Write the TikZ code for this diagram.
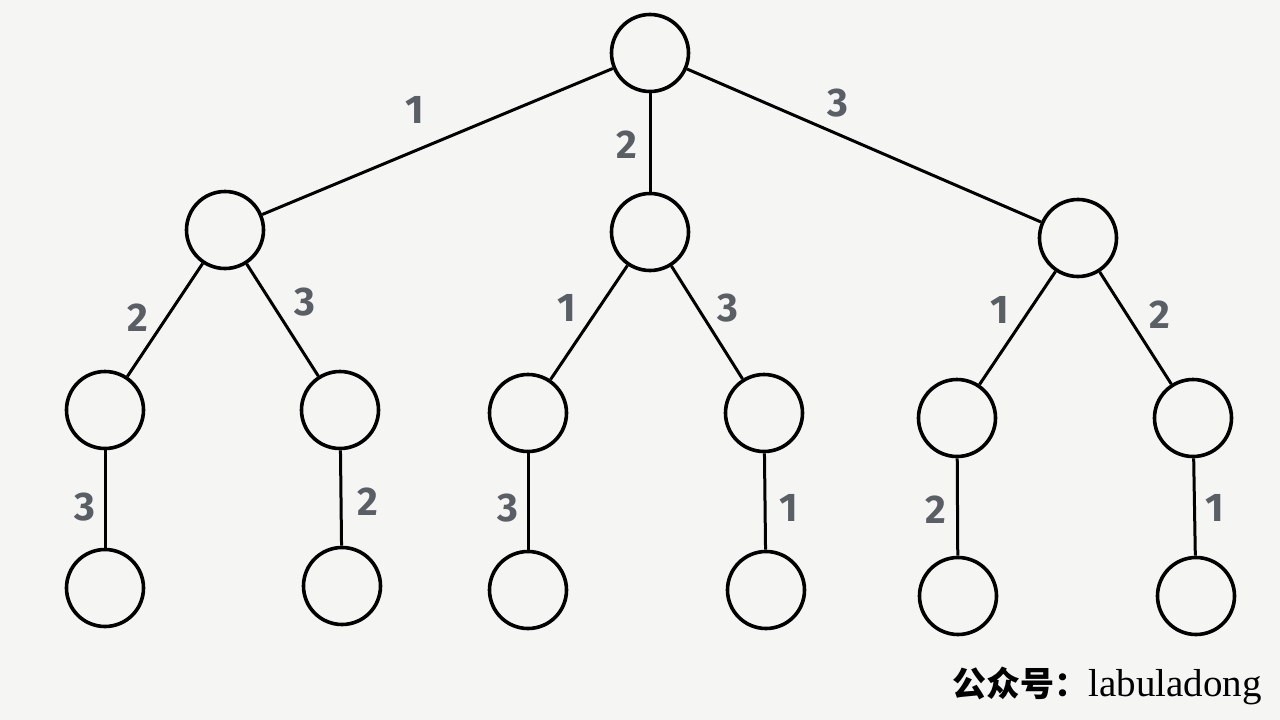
\documentclass[tikz,border=0pt]{standalone}
\usepackage{fontspec}
\setmainfont{Liberation Serif}
\newfontfamily\digitfont{Fira Sans}
\newfontfamily\cjk{Noto Sans CJK SC}
\definecolor{bgc}{HTML}{F5F5F3}
\definecolor{lblc}{HTML}{5A5F66}
\begin{document}
\begin{tikzpicture}[x=1pt,y=-1pt,
  tn/.style={circle,draw=black,line width=3.6pt,minimum size=77pt,inner sep=0pt},
  ed/.style={line width=3pt,black},
  lb/.style={text=lblc,font=\digitfont\bfseries\fontsize{40}{40}\selectfont,inner sep=0pt}]
\fill[bgc] (0,0) rectangle (1280,720);
\useasboundingbox (0,0) rectangle (1280,720);
% nodes
\node[tn] (r) at (650,53) {};
\node[tn] (a) at (225,230) {};
\node[tn] (b) at (650,232) {};
\node[tn] (c) at (1078,238) {};
\node[tn] (aa) at (105,410) {};
\node[tn] (ab) at (340,410) {};
\node[tn] (ba) at (528,413) {};
\node[tn] (bb) at (764,413) {};
\node[tn] (ca) at (957,418) {};
\node[tn] (cb) at (1193,418) {};
\node[tn] (aaa) at (105,588) {};
\node[tn] (aba) at (342,586) {};
\node[tn] (baa) at (528,590) {};
\node[tn] (bba) at (766,590) {};
\node[tn] (caa) at (958,596) {};
\node[tn] (cba) at (1196,596) {};
% edges
\draw[ed] (r) -- (a);
\draw[ed] (r) -- (b);
\draw[ed] (r) -- (c);
\draw[ed] (a) -- (aa);
\draw[ed] (a) -- (ab);
\draw[ed] (b) -- (ba);
\draw[ed] (b) -- (bb);
\draw[ed] (c) -- (ca);
\draw[ed] (c) -- (cb);
\draw[ed] (aa) -- (aaa);
\draw[ed] (ab) -- (aba);
\draw[ed] (ba) -- (baa);
\draw[ed] (bb) -- (bba);
\draw[ed] (ca) -- (caa);
\draw[ed] (cb) -- (cba);
% labels
\node[lb] (l1) at (415,110) {1};
\node[lb] (l2) at (627,145) {2};
\node[lb] (l3) at (838,103) {3};
\node[lb] (l4) at (138,318) {2};
\node[lb] (l5) at (305,302) {3};
\node[lb] (l6) at (567,308) {1};
\node[lb] (l7) at (728,308) {3};
\node[lb] (l8) at (1000,310) {1};
\node[lb] (l9) at (1160,315) {2};
\node[lb] (l10) at (85,507) {3};
\node[lb] (l11) at (368,502) {2};
\node[lb] (l12) at (508,508) {3};
\node[lb] (l13) at (789,508) {1};
\node[lb] (l14) at (936,510) {2};
\node[lb] (l15) at (1215,508) {1};
% watermark
\node[anchor=east,inner sep=0pt] (wm) at (1262,686) {{\cjk\bfseries\fontsize{34}{34}\selectfont 公众号：}{\fontsize{39}{39}\selectfont labuladong}};
\end{tikzpicture}
\end{document}
